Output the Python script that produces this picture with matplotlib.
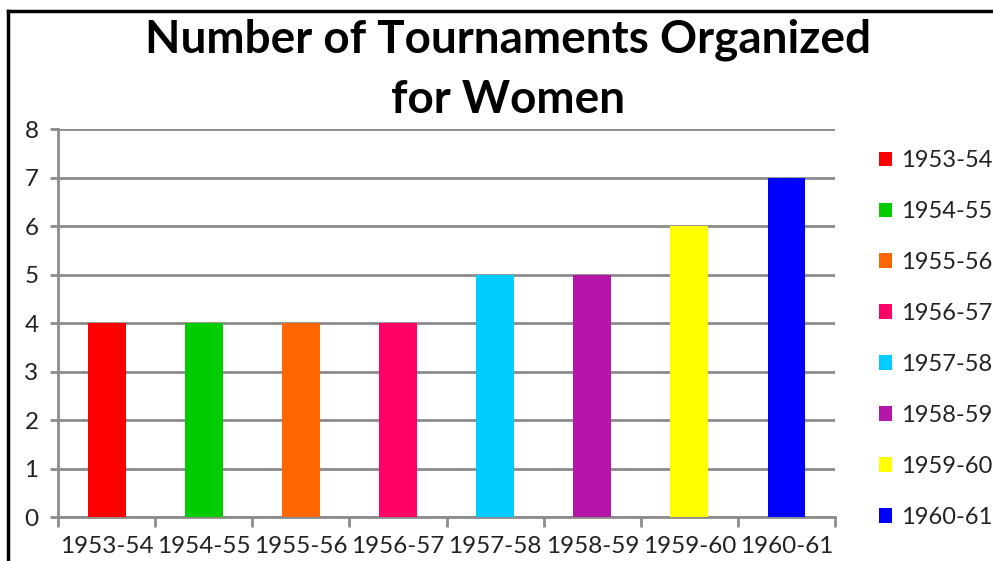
import matplotlib.pyplot as plt
from matplotlib.lines import Line2D

temporadas = ["1953-54", "1954-55", "1955-56", "1956-57",
              "1957-58", "1958-59", "1959-60", "1960-61"]
torneos = [4, 4, 4, 4, 5, 5, 6, 7]
colores = ["#FF0000", "#00CC00", "#FF6600", "#FF0066",
           "#00CCFF", "#B515A8", "#FFFF00", "#0000FF"]

plt.rcParams['font.family'] = ['Lato', 'DejaVu Sans']
gris = "#8C8C8C"

fig = plt.figure(figsize=(9.93, 5.61), dpi=100)
ax = fig.add_axes([0.0584, 0.0784, 0.7826, 0.6916])

for i in range(len(temporadas)):
    ax.bar(i, torneos[i], width=0.39, color=colores[i], label=temporadas[i], zorder=3)

ax.set_xlim(-0.5, len(temporadas) - 0.5)
ax.set_ylim(0, 8)
ax.set_yticks(range(0, 9))
ax.set_xticks(range(len(temporadas)))
ax.set_xticklabels(temporadas)
ax.set_xticks([x - 0.5 for x in range(len(temporadas) + 1)], minor=True)

ax.grid(axis="y", color=gris, linewidth=2, zorder=0)
for lado in ["top", "right"]:
    ax.spines[lado].set_visible(False)
for lado in ["left", "bottom"]:
    ax.spines[lado].set_color(gris)
    ax.spines[lado].set_linewidth(2)

ax.tick_params(axis="x", which="major", length=0, pad=14, labelsize=17.5, colors="#222222")
ax.tick_params(axis="x", which="minor", length=7, width=2, color=gris)
ax.tick_params(axis="y", length=6, width=2, color=gris, labelsize=17.5, pad=8, labelcolor="#222222")

fig.text(0.512, 0.876, "Number of Tournaments Organized\nfor Women", ha="center", va="center",
         fontsize=33, fontweight="bold", linespacing=1.52)

ax.legend(loc="center left", bbox_to_anchor=(1.029, 0.459), frameon=False, fontsize=17,
          handlelength=0.55, handleheight=0.55, handletextpad=0.37, labelspacing=1.27,
          labelcolor="#222222")

# marco del grafico
fig.add_artist(Line2D([0.0085, 0.0085], [0, 0.981], color="black", linewidth=2.5))
fig.add_artist(Line2D([0.0085, 1.0], [0.981, 0.981], color="black", linewidth=2.5))

plt.savefig("out.png", dpi=100)
